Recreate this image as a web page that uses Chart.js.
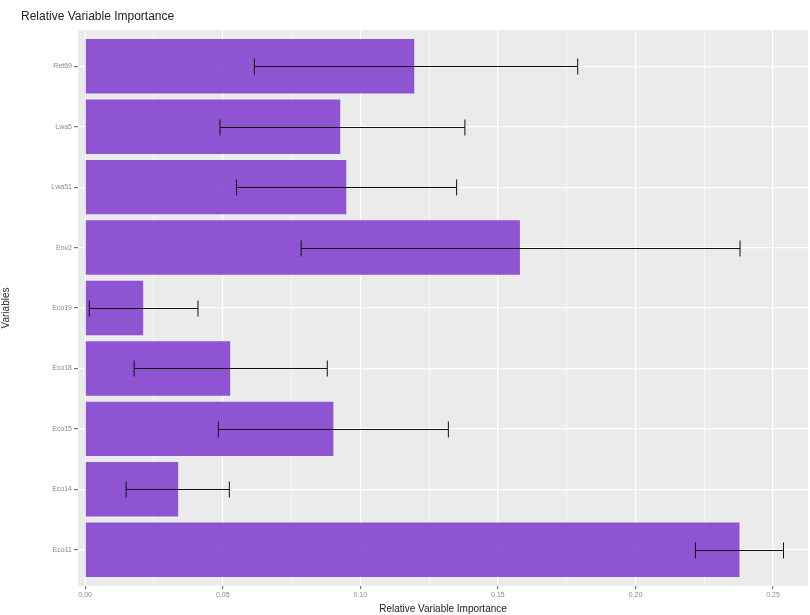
<!DOCTYPE html>
<html><head><meta charset="utf-8">
<script src="https://cdn.jsdelivr.net/npm/chart.js@4/dist/chart.umd.min.js"></script>
<style>html,body{margin:0;padding:0;background:#fff}#wrap{width:810px;height:615px}</style>
</head><body><div id="wrap"><canvas id="c" width="810" height="615"></canvas></div>
<script>
const categories = ["Ret69","Lwa5","Lwa51","Env2","Eco19","Eco18","Eco15","Eco14","Eco11"];
const importance = [0.1196,0.0927,0.0949,0.1580,0.0211,0.0527,0.0902,0.0338,0.2378];
const errLow  = [0.0615,0.0490,0.0550,0.0785,0.0015,0.0178,0.0484,0.0149,0.2218];
const errHigh = [0.1790,0.1380,0.1350,0.2380,0.0410,0.0880,0.1320,0.0524,0.2538];
const xTicks = [0,0.025,0.05,0.075,0.10,0.125,0.15,0.175,0.20,0.225,0.25];
const xTickLabels = ["0.00","","0.05","","0.10","","0.15","","0.20","","0.25"];

const FONT = '"Liberation Sans", Arial, sans-serif';
const panelBg = {
  id:'panelBg',
  beforeDraw(chart){
    const {ctx, chartArea:a} = chart;
    ctx.save(); ctx.fillStyle='#ebebeb';
    ctx.fillRect(a.left,a.top,a.right-a.left,a.bottom-a.top);
    ctx.restore();
  },
  afterDraw(chart){
    const ctx = chart.ctx;
    ctx.save();
    ctx.fillStyle='#222'; ctx.font='12px '+FONT;
    ctx.textBaseline='middle'; ctx.textAlign='left';
    ctx.fillText('Relative Variable Importance',21,17);
    ctx.restore();
  }
};
const errorBars = {
  id:'errorBars',
  afterDatasetsDraw(chart){
    const {ctx, scales:{x,y}} = chart;
    ctx.save(); ctx.strokeStyle='#111'; ctx.lineWidth=1;
    categories.forEach((c,i)=>{
      const yc = Math.round(y.getPixelForValue(i))+0.5;
      const x1 = x.getPixelForValue(errLow[i]), x2 = x.getPixelForValue(errHigh[i]);
      const h = 8;
      ctx.beginPath();
      ctx.moveTo(x1,yc); ctx.lineTo(x2,yc);
      ctx.moveTo(x1,yc-h); ctx.lineTo(x1,yc+h);
      ctx.moveTo(x2,yc-h); ctx.lineTo(x2,yc+h);
      ctx.stroke();
    });
    ctx.restore();
  }
};

const points = categories.map((c,i)=>({x:importance[i], y:i}));

new Chart(document.getElementById('c'),{
  type:'bar',
  data:{datasets:[{data:points,backgroundColor:'rgba(137,76,208,0.95)',borderWidth:0,barPercentage:0.9,categoryPercentage:1}]},
  options:{
    indexAxis:'y', responsive:false, animation:false,
    layout:{padding:{left:0,right:2,top:30,bottom:0}},
    plugins:{legend:{display:false},tooltip:{enabled:false},title:{display:false}},
    scales:{
      x:{type:'linear',min:-0.0026,max:0.2627,
        afterBuildTicks(s){ s.ticks = xTicks.map(v=>({value:v})); },
        afterFit(s){ s.height=29; },
        grid:{color:'#ffffff', lineWidth:(c)=> (c.index%2===0?1.2:0.6), drawTicks:true, tickLength:3,
          tickColor:(c)=> (c.index%2===0?'#777':'rgba(0,0,0,0)')},
        border:{display:false},
        ticks:{autoSkip:false,maxRotation:0,padding:2,color:'#888',font:{size:7,family:FONT},
          callback:(v,i)=>xTickLabels[i]},
        title:{display:true,text:'Relative Variable Importance',color:'#222',font:{size:10,family:FONT},padding:{top:3,bottom:0}}
      },
      y:{type:'linear',min:-0.6,max:8.6,reverse:true,offset:false,
        afterBuildTicks(s){ s.ticks = categories.map((c,i)=>({value:i})); },
        afterFit(s){ s.width=78; },
        grid:{offset:false,color:'#ffffff',lineWidth:1.2,drawTicks:true,tickLength:4,tickColor:'#777'},
        border:{display:false},
        ticks:{autoSkip:false,color:'#888',padding:2,font:{size:7,family:FONT},callback:(v)=>categories[v]},
        title:{display:true,text:'Variables',color:'#222',font:{size:10,family:FONT},padding:{top:0,bottom:2}}
      }
    }
  },
  plugins:[panelBg,errorBars]
});
</script></body></html>
